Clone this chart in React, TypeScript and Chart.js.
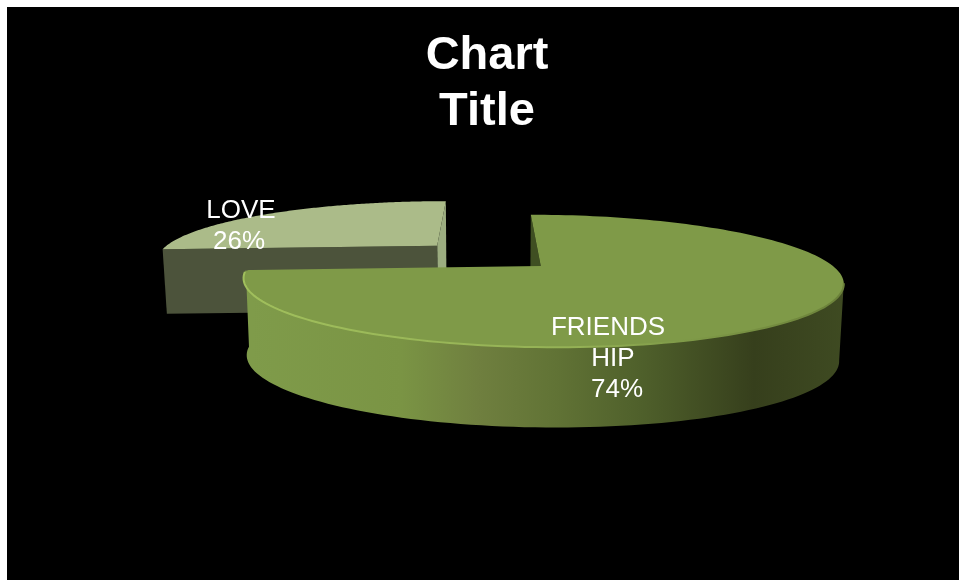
import React, { useEffect, useRef } from "react";
import { Chart, registerables } from "chart.js";

Chart.register(...registerables);

// Pie values and labels
const categories = ["FRIENDSHIP", "LOVE"];
const labelLines = [["FRIENDS", "HIP"], ["LOVE"]];
const values = [74, 26];
const faceColors = ["#7f9a48", "#abbb89"];
const titleLines = ["Chart", "Title"];

const FONT = '"Liberation Sans", Arial, sans-serif';

// Perspective model of the tilted pie, in units of the arc's outer radius
const TILT = 0.2185;
const WIDTH_SCALE = 2.81;
const TOP_OPEN = 0.582;
const BOTTOM_NARROW = 0.987;
// Lower rim of each slice: vertical shift and opening of its ellipse
const LOWER_RIM = [
  { shift: 0.76, open: 0.609 },
  { shift: 0.643, open: 0.556 },
];

type Pt = [number, number];
type Rim = { shift: number; open: number } | null;

function project(el: any, u: number, v: number, rim: Rim): Pt {
  const R = el.outerRadius;
  const d = 1 - TILT * v;
  const x = el.x + (rim ? BOTTOM_NARROW : 1) * WIDTH_SCALE * R * (u / d);
  const y = rim
    ? el.y + rim.shift * R + rim.open * R * (v / d)
    : el.y + TOP_OPEN * R * (v / d);
  return [x, y];
}

// Slice centre in pie units after the explosion along its bisector
function sliceOrigin(el: any): Pt {
  const mid = (el.startAngle + el.endAngle) / 2;
  const shift = el.options.offset / 4 / el.outerRadius;
  return [Math.cos(mid) * shift, Math.sin(mid) * shift];
}

function rimPoints(el: any, from: number, to: number, rim: Rim): Pt[] {
  const [ou, ov] = sliceOrigin(el);
  const pts: Pt[] = [];
  const steps = 160;
  for (let i = 0; i <= steps; i++) {
    const a = from + ((to - from) * i) / steps;
    pts.push(project(el, ou + Math.cos(a), ov + Math.sin(a), rim));
  }
  return pts;
}

function fillPath(ctx: CanvasRenderingContext2D, pts: Pt[], fill: any) {
  ctx.beginPath();
  pts.forEach((p, i) => (i ? ctx.lineTo(p[0], p[1]) : ctx.moveTo(p[0], p[1])));
  ctx.closePath();
  ctx.fillStyle = fill;
  ctx.fill();
}

function cutWall(el: any, angle: number, rim: Rim, fill: any, ctx: CanvasRenderingContext2D) {
  const [ou, ov] = sliceOrigin(el);
  const eu = ou + Math.cos(angle);
  const ev = ov + Math.sin(angle);
  fillPath(
    ctx,
    [
      project(el, ou, ov, null),
      project(el, eu, ev, null),
      project(el, eu, ev, rim),
      project(el, ou, ov, rim),
    ],
    fill
  );
}

// Softens the sharp outer corner where the rim meets the straight cut
function roundedCorner(rim: Pt[], apex: Pt): Pt[] {
  const c = rim[rim.length - 1];
  const p0 = rim[rim.length - 2];
  const len = Math.hypot(apex[0] - c[0], apex[1] - c[1]);
  const p2: Pt = [c[0] + ((apex[0] - c[0]) * 6) / len, c[1] + ((apex[1] - c[1]) * 6) / len];
  const out: Pt[] = [];
  for (let t = 0; t <= 1.001; t += 0.1) {
    const a = (1 - t) * (1 - t);
    const b = 2 * t * (1 - t);
    const e = t * t;
    out.push([a * p0[0] + b * c[0] + e * p2[0], a * p0[1] + b * c[1] + e * p2[1]]);
  }
  return out;
}

const pie3d = {
  id: "pie3d",
  beforeDatasetDraw(chart: any) {
    const { ctx } = chart;
    const arcs = chart.getDatasetMeta(0).data;
    const big = arcs[0];
    const small = arcs[1];
    ctx.save();

    // Rear slice: end wall, front cut wall, then its top face
    cutWall(small, small.endAngle, LOWER_RIM[1], "#9cad80", ctx);
    cutWall(small, small.startAngle, LOWER_RIM[1], "#4c533b", ctx);
    fillPath(ctx, [
      project(small, ...sliceOrigin(small), null),
      ...rimPoints(small, small.startAngle, small.endAngle, null),
    ], small.options.backgroundColor);

    // Front slice: inner cut wall, curved side with lighting, top face
    cutWall(big, big.startAngle, LOWER_RIM[0], "#3f4f22", ctx);
    const apex = project(big, ...sliceOrigin(big), null);
    const top = rimPoints(big, big.startAngle, big.endAngle, null);
    const bot = rimPoints(big, big.startAngle, big.endAngle, LOWER_RIM[0]);
    const g = ctx.createLinearGradient(244, 0, 843, 0);
    g.addColorStop(0, "#7f9b4a");
    g.addColorStop(0.25, "#7a9444");
    g.addColorStop(0.38, "#6f7f3f");
    g.addColorStop(0.5, "#627436");
    g.addColorStop(0.65, "#4f602b");
    g.addColorStop(0.84, "#363f1c");
    g.addColorStop(1, "#3f4b22");
    // The visible side runs from the rightmost rim point round to the cut
    let right = 0;
    top.forEach((p, i) => {
      if (p[0] > top[right][0]) right = i;
    });
    fillPath(ctx, [...top.slice(right), ...bot.slice(right).reverse()], g);
    fillPath(ctx, [apex, ...top.slice(0, -1), ...roundedCorner(top, apex)], big.options.backgroundColor);

    // Bevel highlight along the near rim, fading out towards the shaded side
    const rim = top.slice(right, -1);
    const hl = ctx.createLinearGradient(244, 0, 843, 0);
    hl.addColorStop(0, "#a0bf5c");
    hl.addColorStop(0.55, "#94b155");
    hl.addColorStop(0.72, "#7f9a48");
    hl.addColorStop(1, "#6a8039");
    ctx.beginPath();
    rim.forEach((p, i) => (i ? ctx.lineTo(p[0], p[1]) : ctx.moveTo(p[0], p[1])));
    ctx.strokeStyle = hl;
    ctx.lineWidth = 2;
    ctx.filter = "blur(0.6px)";
    ctx.stroke();
    ctx.filter = "none";

    ctx.restore();
    return false;
  },
  afterDatasetsDraw(chart: any) {
    const { ctx } = chart;
    const arcs = chart.getDatasetMeta(0).data;
    const total = values.reduce((a, b) => a + b, 0);
    const placement = [
      { dx: 126, y: 335, nudge: [-5, 0, 4] },
      { dx: -247, y: 218, nudge: [1, -1] },
    ];
    ctx.save();
    ctx.fillStyle = "#ffffff";
    ctx.font = `26px ${FONT}`;
    ctx.textAlign = "center";
    ctx.textBaseline = "alphabetic";
    arcs.forEach((el: any, i: number) => {
      const lines = [...labelLines[i], `${Math.round((values[i] / total) * 100)}%`];
      lines.forEach((line, j) => {
        ctx.fillText(line, el.x + placement[i].dx + placement[i].nudge[j], placement[i].y - 7 + j * 31);
      });
    });
    ctx.restore();
  },
};

export default function App() {
  const ref = useRef<HTMLCanvasElement | null>(null);
  useEffect(() => {
    const chart = new Chart(ref.current as HTMLCanvasElement, {
      type: "pie",
      data: {
        labels: categories,
        datasets: [
          {
            data: values,
            backgroundColor: faceColors,
            borderWidth: 0,
            offset: 101,
            radius: 100,
          } as any,
        ],
      },
      options: {
        animation: false,
        responsive: false,
        layout: { padding: { left: 8, bottom: 218 } },
        plugins: {
          legend: { display: false },
          tooltip: { enabled: false },
          title: {
            display: true,
            text: titleLines,
            color: "#ffffff",
            font: { family: FONT, size: 47, weight: "bold", lineHeight: 56 / 47 },
            padding: { top: 21, bottom: 9 },
          },
        },
      },
      plugins: [pie3d],
    });
    return () => chart.destroy();
  }, []);
  return (
    <canvas
      ref={ref}
      width={952}
      height={573}
      style={{ position: "absolute", left: 7, top: 7, width: 952, height: 573, background: "#000" }}
    />
  );
}
